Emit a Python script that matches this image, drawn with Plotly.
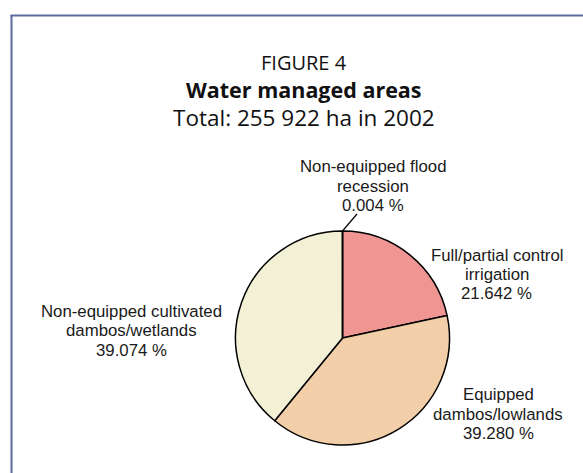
import math
import plotly.graph_objects as go

# ---- data ----
categories = [
    "Full/partial control irrigation",
    "Equipped dambos/lowlands",
    "Non-equipped cultivated dambos/wetlands",
    "Non-equipped flood recession",
]
label_lines = [
    ["Full/partial control", "irrigation"],
    ["Equipped", "dambos/lowlands"],
    ["Non-equipped cultivated", "dambos/wetlands"],
    ["Non-equipped flood", "recession"],
]
values = [21.642, 39.280, 39.074, 0.004]
value_text = ["21.642 %", "39.280 %", "39.074 %", "0.004 %"]
colors = ["#EF9693", "#F2CEA9", "#F3F1D5", "#F3F1D5"]

W, H = 583, 473
cx, cy, R = 342.5, 338.0, 107.0  # pie geometry in px (from top-left)

fig = go.Figure()
fig.add_trace(go.Pie(
    labels=categories,
    values=values,
    sort=False,
    direction="clockwise",
    rotation=0,
    textinfo="none",
    hoverinfo="skip",
    marker=dict(colors=colors, line=dict(color="#000000", width=1.5)),
    domain=dict(x=[(cx - R) / W, (cx + R) / W], y=[(H - cy - R) / H, (H - cy + R) / H]),
    showlegend=False,
))

# label anchor positions (center x, middle y of the block) in px
label_pos = [(496.5, 274.5), (498, 414), (131.5, 330.5), (373, 186)]
LH = 19.5
annotations = []
for lines, vt, (lx, ly) in zip(label_lines, value_text, label_pos):
    all_lines = lines + [vt]
    n = len(all_lines)
    for i, ln in enumerate(all_lines):
        yy = ly + (i - (n - 1) / 2) * LH
        annotations.append(dict(
            x=lx / W, y=(H - yy) / H, xref="paper", yref="paper",
            text=ln, showarrow=False, xanchor="center", yanchor="middle",
            font=dict(family="Liberation Sans, Arial", size=16.8, color="#1a1a1a"),
        ))

# titles
title_lines = [("FIGURE 4", 62, 20, False), ("Water managed areas", 89.5, 21.5, True),
               ("Total: 255 922 ha in 2002", 117, 22.5, False)]
for t, ty, fs, bold in title_lines:
    annotations.append(dict(
        x=303.5 / W, y=(H - ty) / H, xref="paper", yref="paper",
        text=f"<b>{t}</b>" if bold else t, showarrow=False,
        xanchor="center", yanchor="middle",
        font=dict(family="Open Sans", size=fs, color="#111111"),
    ))

# leader line for the tiny slice: start at the slice mid-angle on the rim
cum = sum(values[:-1]) + values[-1] / 2
ang = 2 * math.pi * cum / sum(values)  # clockwise from 12 o'clock
sx = cx + R * math.sin(ang)
sy = cy - R * math.cos(ang)
ex, ey = 357.0, 214.0
shapes = [
    dict(type="line", xref="paper", yref="paper",
         x0=sx / W, y0=(H - sy) / H, x1=ex / W, y1=(H - ey) / H,
         line=dict(color="#000000", width=1.2)),
    # frame
    dict(type="line", xref="paper", yref="paper",
         x0=11.5 / W, y0=0, x1=11.5 / W, y1=(H - 15.5) / H,
         line=dict(color="#5B6A9F", width=2)),
    dict(type="line", xref="paper", yref="paper",
         x0=10.5 / W, y0=(H - 15.5) / H, x1=1, y1=(H - 15.5) / H,
         line=dict(color="#5B6A9F", width=2)),
]

fig.update_layout(
    width=W, height=H,
    margin=dict(l=0, r=0, t=0, b=0),
    paper_bgcolor="white", plot_bgcolor="white",
    annotations=annotations, shapes=shapes,
)
fig.write_html("out.html")
